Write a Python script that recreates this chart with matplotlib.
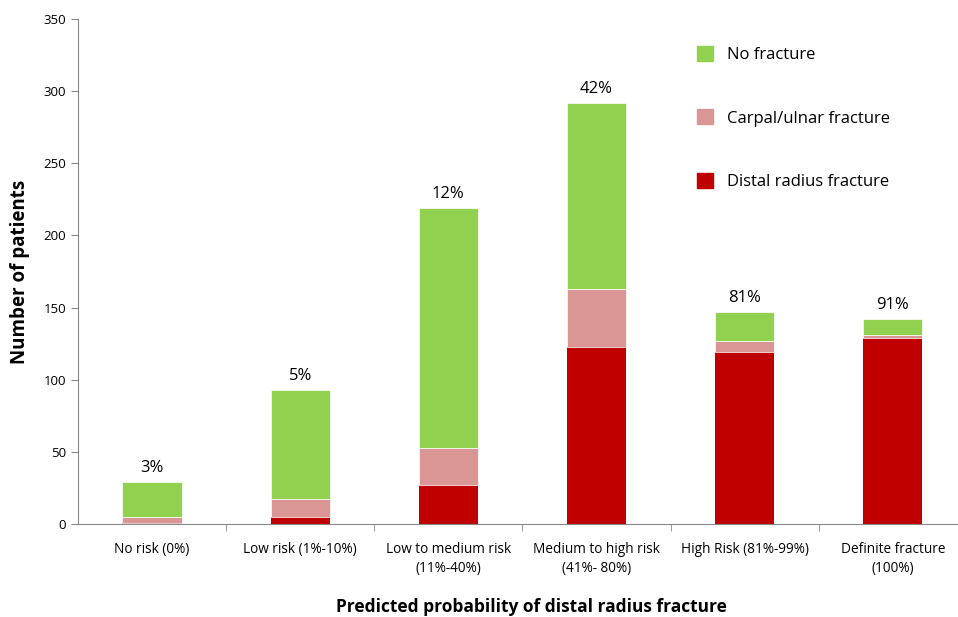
import numpy as np
import matplotlib.pyplot as plt
from matplotlib.patches import Patch

plt.rcParams['font.family'] = ['Open Sans', 'DejaVu Sans']

categories = ['No risk (0%)', 'Low risk (1%-10%)', 'Low to medium risk\n(11%-40%)',
              'Medium to high risk\n(41%- 80%)', 'High Risk (81%-99%)', 'Definite fracture\n(100%)']
distal = [1, 5, 27, 123, 119, 129]
carpal = [4, 12, 26, 40, 8, 2]
nofrac = [24, 76, 166, 129, 20, 11]
pct_labels = ['3%', '5%', '12%', '42%', '81%', '91%']

c_red = '#c00000'
c_pink = '#da9694'
c_green = '#92d050'

fig = plt.figure(figsize=(9.58, 6.17), dpi=100)
ax = fig.add_axes([78/958, 1-524/617, 880/958, 505/617])

x = np.arange(len(categories))
w = 0.40
d = np.array(distal)
c = np.array(carpal)
n = np.array(nofrac)
ax.bar(x, d, w, color=c_red, edgecolor='none')
ax.bar(x, c, w, bottom=d, color=c_pink, edgecolor='white', linewidth=0.5)
ax.bar(x, n, w, bottom=d + c, color=c_green, edgecolor='white', linewidth=0.5)

for xi, tot, lab in zip(x, d + c + n, pct_labels):
    ax.text(xi, tot + 4, lab, ha='center', va='bottom', fontsize=12)

ax.set_yticks(range(0, 351, 50))
ax.set_xticks(x)
ax.set_xticklabels(categories, fontsize=9.8, linespacing=1.35)
ax.set_xticks(np.arange(0.5, 5, 1), minor=True)
# set limits after ticks, set_ticks can widen the view
ax.set_xlim(-0.5, 5.44)
ax.set_ylim(0, 350)
ax.tick_params(axis='x', which='major', length=0, pad=13)
ax.tick_params(axis='x', which='minor', length=5, color='#888888')
ax.tick_params(axis='y', labelsize=9.5, length=5, color='#888888')
for s in ['top', 'right']:
    ax.spines[s].set_visible(False)
for s in ['left', 'bottom']:
    ax.spines[s].set_color('#888888')

ax.set_ylabel('Number of patients', fontsize=13.5, fontweight='bold', labelpad=10)
ax.set_xlabel('Predicted probability of distal radius fracture', fontsize=12.5,
              fontweight='bold')
ax.xaxis.set_label_coords(0.515, -0.147)

handles = [Patch(color=c_green, label='No fracture'),
           Patch(color=c_pink, label='Carpal/ulnar fracture'),
           Patch(color=c_red, label='Distal radius fracture')]
ax.legend(handles=handles, loc='upper left', bbox_to_anchor=(0.686, 0.977), frameon=False,
          fontsize=12, labelspacing=2.8, handlelength=1.0, handleheight=1.0, handletextpad=0.8)

fig.savefig('out.png', dpi=100)
